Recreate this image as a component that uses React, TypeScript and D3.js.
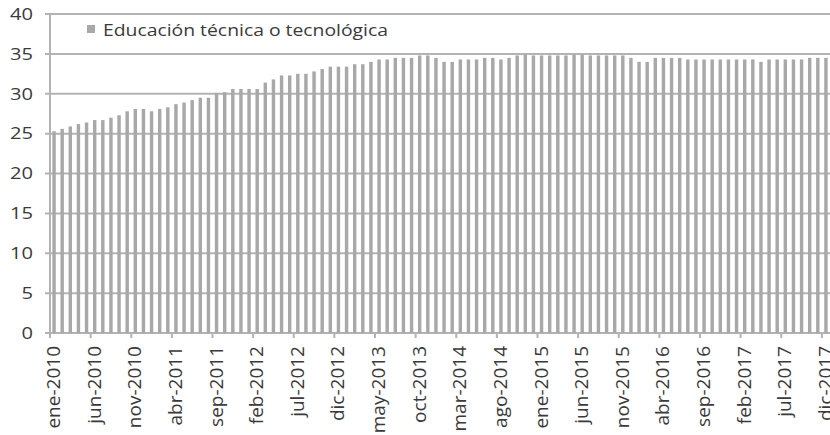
import React from "react";
import * as d3 from "d3";

const monthNames = ["ene", "feb", "mar", "abr", "may", "jun", "jul", "ago", "sep", "oct", "nov", "dic"];
const years = [2010, 2011, 2012, 2013, 2014, 2015, 2016, 2017];
const categories: string[] = years.flatMap((y) => monthNames.map((m) => `${m}-${y}`));

const seriesName = "Educación técnica o tecnológica";
const values = [
  25.3, 25.6, 25.9, 26.2, 26.4, 26.7, 26.7, 27.0, 27.3, 27.8, 28.1, 28.1,
  27.8, 28.1, 28.3, 28.7, 28.9, 29.2, 29.5, 29.5, 30.1, 30.2, 30.6, 30.6,
  30.6, 30.6, 31.4, 31.8, 32.3, 32.3, 32.5, 32.5, 32.8, 33.1, 33.4, 33.4,
  33.4, 33.7, 33.7, 34.0, 34.3, 34.3, 34.5, 34.5, 34.5, 34.8, 34.8, 34.5,
  34.0, 34.0, 34.3, 34.3, 34.3, 34.5, 34.5, 34.3, 34.5, 34.8, 34.9, 34.8,
  34.8, 34.8, 34.8, 34.8, 34.9, 34.9, 34.8, 34.8, 34.8, 34.8, 34.8, 34.5,
  34.0, 34.0, 34.5, 34.5, 34.5, 34.5, 34.3, 34.3, 34.3, 34.3, 34.3, 34.3,
  34.3, 34.3, 34.3, 34.0, 34.3, 34.3, 34.3, 34.3, 34.3, 34.5, 34.5, 34.5,
];
const yTicks = [0, 5, 10, 15, 20, 25, 30, 35, 40];
const labelEvery = 5;

const W = 830;
const H = 435;
const left = 50;
const right = 830;
const top = 14;
const bottom = 333;

const font = "'Open Sans', 'DejaVu Sans', sans-serif";
const textColor = "#3a3a3a";
const gridColor = "#b3b3b3";
const barColor = "#a8a8a8";

export default function App() {
  const x = d3
    .scaleBand<string>()
    .domain(categories)
    .range([left, right])
    .paddingInner(0.58)
    .paddingOuter(0.29);
  const step = x.step();
  const y = d3.scaleLinear().domain([0, 40]).range([bottom, top]);

  const tickIdx = d3.range(0, categories.length + 1, labelEvery);

  return (
    <svg
      width={W}
      height={H}
      style={{ position: "fixed", left: 0, top: 0, background: "#fff" }}
      fontFamily={font}
    >
      <rect x={0} y={0} width={W} height={H} fill="#fff" />
      {yTicks.map((t) => (
        <line key={"g" + t} x1={left - 5} x2={right} y1={y(t)} y2={y(t)} stroke={gridColor} strokeWidth={2} />
      ))}
      {categories.map((c, i) => (
        <rect
          key={c}
          x={x(c)!}
          y={y(values[i])}
          width={x.bandwidth()}
          height={y(0) - y(values[i])}
          fill={barColor}
        />
      ))}
      <line x1={left} x2={left} y1={y(40)} y2={y(0) + 5} stroke={gridColor} strokeWidth={2} />
      {tickIdx.map((k) => (
        <line
          key={"xt" + k}
          x1={left + k * step}
          x2={left + k * step}
          y1={y(0)}
          y2={y(0) + 5}
          stroke={gridColor}
          strokeWidth={2}
        />
      ))}
      {yTicks.map((t) => (
        <text
          key={"yl" + t}
          x={33}
          y={y(t)}
          dy="0.36em"
          textAnchor="end"
          fontSize={16}
          fill={textColor}
          textLength={String(t).length * 11.5}
          lengthAdjust="spacingAndGlyphs"
        >
          {t}
        </text>
      ))}
      {categories.map((c, i) =>
        i % labelEvery === 0 ? (
          <text
            key={"xl" + c}
            transform={`translate(${x(c)! + x.bandwidth() / 2 + 6},${y(0) + 13}) rotate(-90)`}
            textAnchor="end"
            fontSize={19}
            fill={textColor}
          >
            {c}
          </text>
        ) : null
      )}
      <rect x={87} y={25} width={8} height={8} fill={barColor} />
      <text
        x={103}
        y={36}
        fontSize={16}
        fill={textColor}
        textLength={285}
        lengthAdjust="spacingAndGlyphs"
      >
        {seriesName}
      </text>
    </svg>
  );
}
